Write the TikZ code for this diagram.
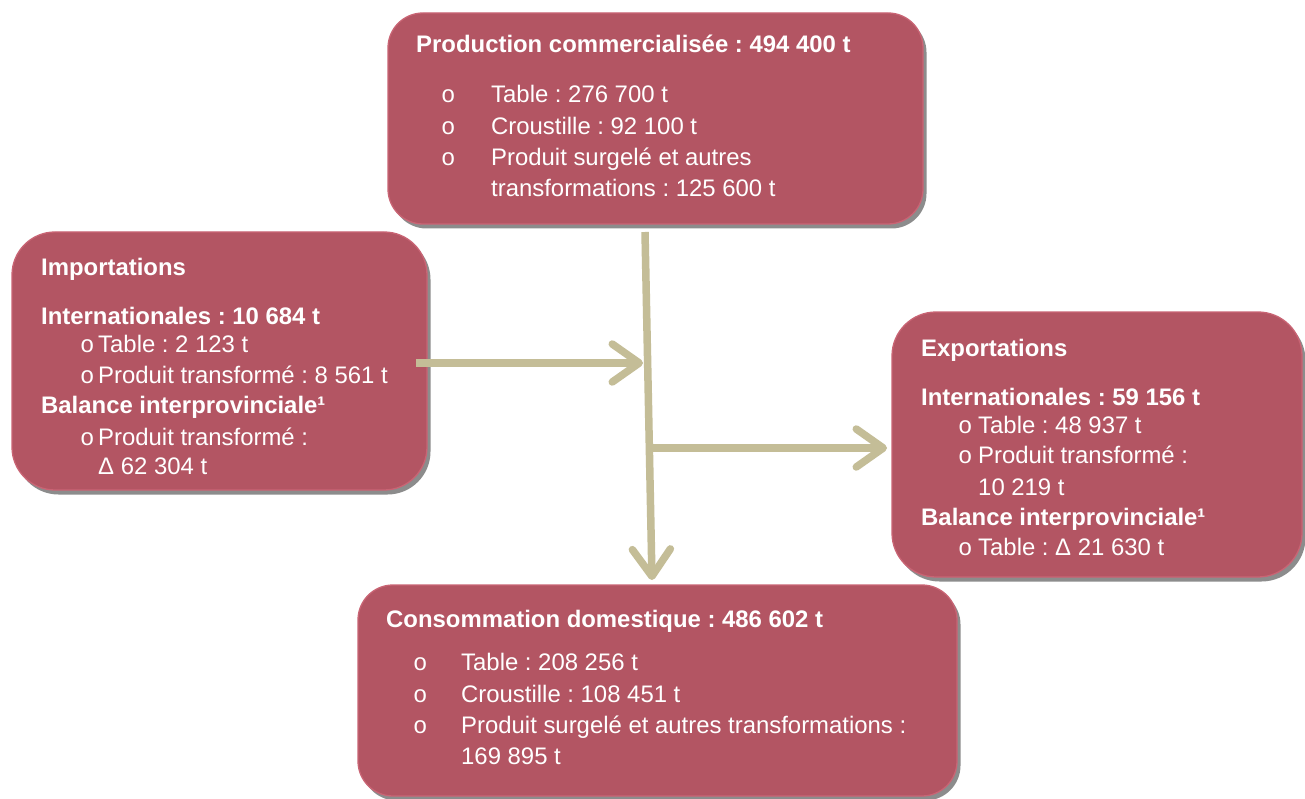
\documentclass[tikz,border=0pt]{standalone}
\usepackage{fontspec}
\setmainfont{Liberation Sans}
\newfontfamily\bulfont{Liberation Mono}
\usetikzlibrary{arrows.meta,shadows}
\definecolor{boxfill}{HTML}{B35563}
\definecolor{boxedge}{HTML}{C96474}
\definecolor{shadowgray}{HTML}{8C8C8C}
\definecolor{arrowtan}{HTML}{C4BD97}
\frenchspacing
\begin{document}
\begin{tikzpicture}[x=1pt,y=-1pt,
  box/.style={draw=boxedge, line width=1.3pt, fill=boxfill, rounded corners=#1,
    drop shadow={shadow xshift=3.5pt, shadow yshift=-4.5pt, fill=shadowgray, opacity=1},
    inner sep=0pt},
  box/.default=35pt,
  txt/.style={anchor=base west, inner sep=0pt, text=white, font=\fontsize{23.9}{28}\selectfont},
  btxt/.style={txt, font=\fontsize{23.9}{28}\selectfont\bfseries},
  bul/.style={anchor=base west, inner sep=0pt, text=white, font=\bulfont\fontsize{23.9}{28}\selectfont},
  flow/.style={draw=arrowtan, line width=7.5pt, line cap=butt,
    -{Straight Barb[length=27pt,width=38pt,round]}}
]
\useasboundingbox (0,0) rectangle (1305,799);
\fill[white] (0,0) rectangle (1305,799);

% boxes
\node[box=35pt, minimum width=535pt, minimum height=211pt] (prod) at (655.5,118.5) {};
\node[box=43pt, minimum width=415pt, minimum height=258pt] (imp) at (219.5,361) {};
\node[box=44pt, minimum width=410pt, minimum height=265pt] (exp) at (1097,444.5) {};
\node[box=35pt, minimum width=599pt, minimum height=211pt] (cons) at (657.5,690.5) {};

% connectors
\coordinate (vtop) at (645,232);
\coordinate (vbot) at (652,580);
\coordinate (impout) at (416,363);
\coordinate (jin) at (643,363);
\coordinate (jout) at (650,448);
\coordinate (expin) at (887,448);
\draw[flow] (vtop) -- (vbot);
\draw[flow] (impout) -- (jin);
\draw[flow] (jout) -- (expin);

% production
\node[btxt] (p0) at (416,53) {Production commercialisée : 494 400 t};
\node[bul] (pb1) at (441,103) {o};
\node[txt] (p1) at (491,103) {Table : 276 700 t};
\node[bul] (pb2) at (441,135) {o};
\node[txt] (p2) at (491,135) {Croustille : 92 100 t};
\node[bul] (pb3) at (441,166) {o};
\node[txt] (p3) at (491,166) {Produit surgelé et autres};
\node[txt] (p4) at (491,197) {transformations : 125 600 t};

% importations
\node[btxt] (i0) at (41,276) {Importations};
\node[btxt] (i1) at (41,324) {Internationales : 10 684 t};
\node[bul] (ib1) at (80,352) {o};
\node[txt] (i2) at (98,352) {Table : 2 123 t};
\node[bul] (ib2) at (80,383) {o};
\node[txt] (i3) at (98,383) {Produit transformé : 8 561 t};
\node[btxt] (i4) at (41,413) {Balance interprovinciale¹};
\node[bul] (ib3) at (80,445) {o};
\node[txt] (i5) at (98,445) {Produit transformé :};
\node[txt] (i6) at (98,474) {Δ 62 304 t};

% exportations
\node[btxt] (e0) at (921,356) {Exportations};
\node[btxt] (e1) at (921,405) {Internationales : 59 156 t};
\node[bul] (eb1) at (958,433) {o};
\node[txt] (e2) at (978,433) {Table : 48 937 t};
\node[bul] (eb2) at (958,463) {o};
\node[txt] (e3) at (978,463) {Produit transformé :};
\node[txt] (e4) at (978,495) {10 219 t};
\node[btxt] (e5) at (921,525) {Balance interprovinciale¹};
\node[bul] (eb3) at (958,555) {o};
\node[txt] (e6) at (978,555) {Table : Δ 21 630 t};

% consommation
\node[btxt] (c0) at (386,627) {Consommation domestique : 486 602 t};
\node[bul] (cb1) at (413,670) {o};
\node[txt] (c1) at (461,670) {Table : 208 256 t};
\node[bul] (cb2) at (413,702) {o};
\node[txt] (c2) at (461,702) {Croustille : 108 451 t};
\node[bul] (cb3) at (413,733) {o};
\node[txt] (c3) at (461,733) {Produit surgelé et autres transformations :};
\node[txt] (c4) at (461,764) {169 895 t};
\end{tikzpicture}
\end{document}
